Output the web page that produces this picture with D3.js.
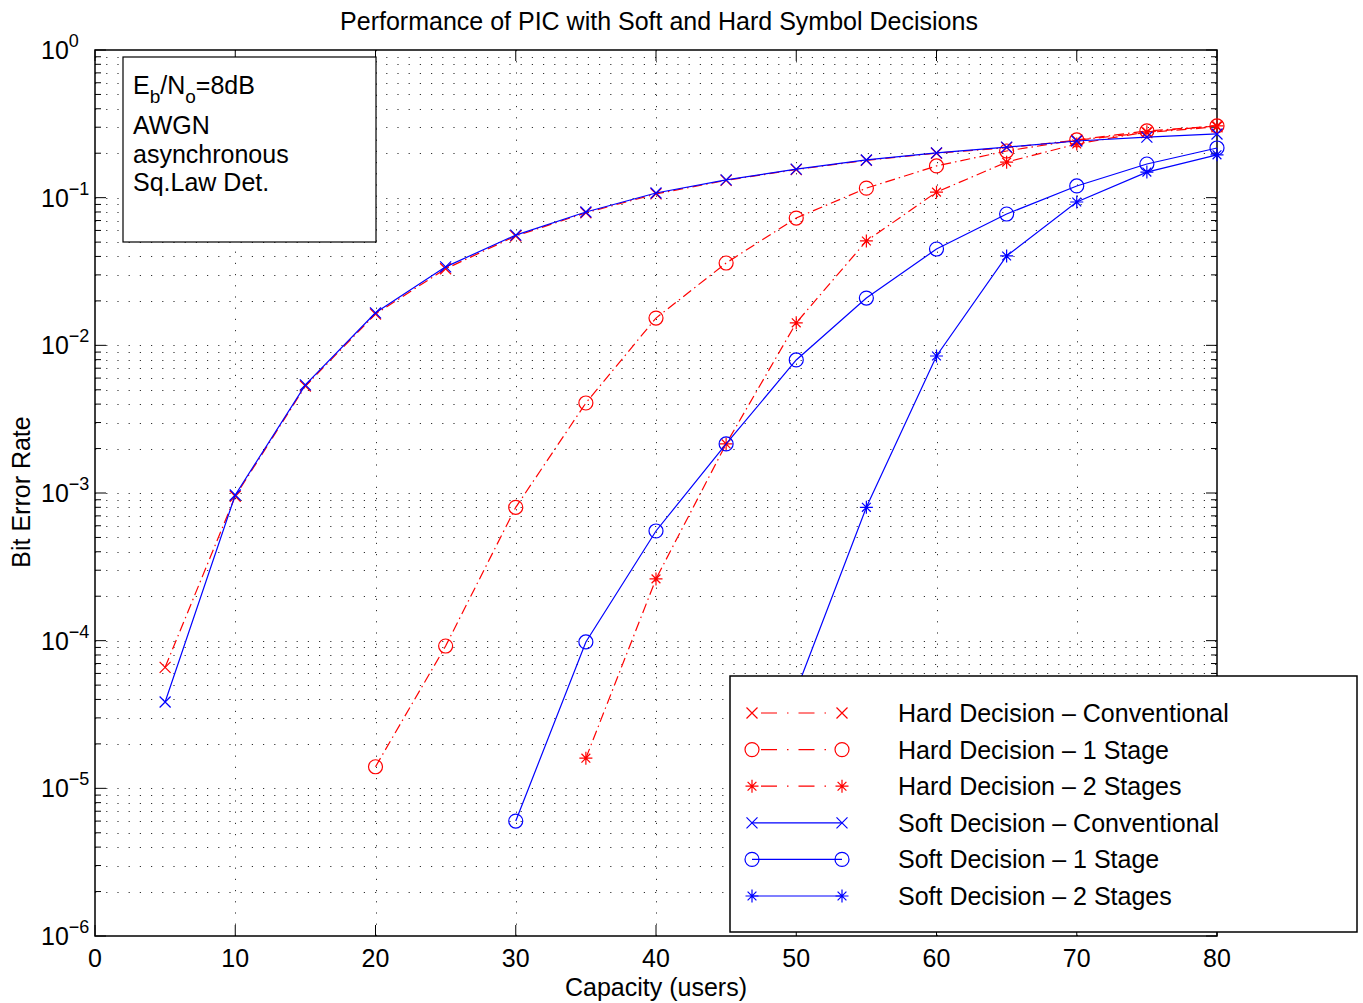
<!DOCTYPE html>
<html><head><meta charset="utf-8">
<script src="https://cdn.jsdelivr.net/npm/d3@7"></script>
<style>
body{margin:0;background:#fff;}
text{font-family:"Liberation Sans",Arial,sans-serif;fill:#000;}
</style></head>
<body><svg id="c" width="1363" height="1003"></svg>
<script>
const users = [5,10,15,20,25,30,35,40,45,50,55,60,65,70,75,80];
const hardConvX = users;
const hardConv = [6.6e-5,9.5e-4,5.3e-3,0.0163,0.033,0.055,0.079,0.106,0.131,0.155,0.179,0.200,0.218,0.245,0.276,0.302];
const hard1X = [20,25,30,35,40,45,50,55,60,65,70,75,80];
const hard1 = [1.4e-5,9.2e-5,8.0e-4,4.07e-3,0.0153,0.0361,0.0728,0.116,0.164,0.207,0.246,0.283,0.306];
const hard2X = [35,40,45,50,55,60,65,70,75,80];
const hard2 = [1.6e-5,2.62e-4,2.15e-3,0.0142,0.0509,0.109,0.174,0.231,0.279,0.306];
const softConvX = users;
const softConv = [3.84e-5,9.7e-4,5.4e-3,0.0166,0.034,0.0558,0.080,0.1076,0.132,0.156,0.180,0.201,0.220,0.242,0.257,0.270];
const soft1X = [30,35,40,45,50,55,60,65,70,75,80];
const soft1 = [6.0e-6,9.8e-5,5.53e-4,2.15e-3,7.96e-3,0.0209,0.0449,0.0775,0.120,0.169,0.217];
const soft2X = [50,55,60,65,70,75,80];
const soft2 = [4.6e-5,8.0e-4,8.47e-3,0.0403,0.0935,0.149,0.195];

const seriesNames = ["Hard Decision \u2013 Conventional","Hard Decision \u2013 1 Stage","Hard Decision \u2013 2 Stages","Soft Decision \u2013 Conventional","Soft Decision \u2013 1 Stage","Soft Decision \u2013 2 Stages"];
const xTicks = [0,10,20,30,40,50,60,70,80];
const yExps = [0,-1,-2,-3,-4,-5,-6];
const title = "Performance of PIC with Soft and Hard Symbol Decisions";
const xLabel = "Capacity (users)";
const yLabel = "Bit Error Rate";
const noteLines = ["AWGN","asynchronous","Sq.Law Det."];

const series = [
 {name:seriesNames[0], xs:hardConvX, ys:hardConv, color:"#ff0000", dash:"10,4,1.5,4", marker:"x"},
 {name:seriesNames[1], xs:hard1X, ys:hard1, color:"#ff0000", dash:"10,4,1.5,4", marker:"o"},
 {name:seriesNames[2], xs:hard2X, ys:hard2, color:"#ff0000", dash:"10,4,1.5,4", marker:"*"},
 {name:seriesNames[3], xs:softConvX, ys:softConv, color:"#0000ff", dash:null, marker:"x"},
 {name:seriesNames[4], xs:soft1X, ys:soft1, color:"#0000ff", dash:null, marker:"o"},
 {name:seriesNames[5], xs:soft2X, ys:soft2, color:"#0000ff", dash:null, marker:"*"}
];

const FS = 25;
const L=95, R=1217, T=50, B=936;
const svg = d3.select("#c");
const x = d3.scaleLinear().domain([0,80]).range([L,R]);
const y = d3.scaleLog().domain([1e-6,1]).range([B,T]);

// grid
const g = svg.append("g");
const minorVals = [];
for (let e=-6;e<0;e++) for (let m=1;m<=9;m++) minorVals.push(m*Math.pow(10,e));
minorVals.push(1);
g.selectAll("line.hg").data(minorVals.filter(v=>v>1e-6 && v<1)).enter().append("line")
 .attr("x1",L).attr("x2",R).attr("y1",d=>Math.round(y(d))+0.5).attr("y2",d=>Math.round(y(d))+0.5)
 .attr("stroke","#333").attr("stroke-width",1).attr("stroke-dasharray","1.2,10");
g.selectAll("line.vg").data(xTicks.filter(v=>v>0&&v<80)).enter().append("line")
 .attr("y1",T).attr("y2",B).attr("x1",d=>Math.round(x(d))+0.5).attr("x2",d=>Math.round(x(d))+0.5)
 .attr("stroke","#333").attr("stroke-width",1).attr("stroke-dasharray","1.2,10");

// ticks
const tk = svg.append("g").attr("stroke","#000").attr("stroke-width",1);
xTicks.forEach(v=>{
  tk.append("line").attr("x1",x(v)).attr("x2",x(v)).attr("y1",B).attr("y2",B-11);
  tk.append("line").attr("x1",x(v)).attr("x2",x(v)).attr("y1",T).attr("y2",T+11);
});
minorVals.forEach(v=>{
  const major = Math.abs(Math.log10(v)-Math.round(Math.log10(v)))<1e-9;
  const len = major?11:6;
  tk.append("line").attr("x1",L).attr("x2",L+len).attr("y1",y(v)).attr("y2",y(v));
  tk.append("line").attr("x1",R).attr("x2",R-len).attr("y1",y(v)).attr("y2",y(v));
});

// box
svg.append("rect").attr("x",L).attr("y",T).attr("width",R-L).attr("height",B-T)
 .attr("fill","none").attr("stroke","#000").attr("stroke-width",1.5);

// tick labels
svg.selectAll("text.xt").data(xTicks).enter().append("text")
 .attr("x",d=>x(d)).attr("y",967).attr("text-anchor","middle").attr("font-size",FS).text(d=>d);
yExps.forEach(e=>{
  const t = svg.append("text").attr("x",41).attr("y",y(Math.pow(10,e))+9).attr("font-size",FS);
  t.append("tspan").text("10");
  t.append("tspan").attr("dy",-12).attr("font-size",18).text(e===0?"0":"\u2212"+(-e));
});

// labels
svg.append("text").attr("x",659).attr("y",30).attr("text-anchor","middle").attr("font-size",FS).text(title);
svg.append("text").attr("x",656).attr("y",996).attr("text-anchor","middle").attr("font-size",FS).text(xLabel);
svg.append("text").attr("transform","translate(30,492) rotate(-90)").attr("text-anchor","middle").attr("font-size",FS).text(yLabel);

// markers
function drawMarker(sel, type, cx, cy, color){
  const s=5.5;
  if(type==="x"){
    sel.append("path").attr("d",`M${cx-s},${cy-s}L${cx+s},${cy+s}M${cx-s},${cy+s}L${cx+s},${cy-s}`).attr("stroke",color).attr("stroke-width",1.2).attr("fill","none");
  } else if(type==="o"){
    sel.append("circle").attr("cx",cx).attr("cy",cy).attr("r",7).attr("stroke",color).attr("stroke-width",1.2).attr("fill","none");
  } else {
    const d=s*0.8;
    sel.append("path").attr("d",`M${cx-s-1},${cy}L${cx+s+1},${cy}M${cx},${cy-s-1}L${cx},${cy+s+1}M${cx-d},${cy-d}L${cx+d},${cy+d}M${cx-d},${cy+d}L${cx+d},${cy-d}`).attr("stroke",color).attr("stroke-width",1.2).attr("fill","none");
  }
}

const line = d3.line().x(d=>x(d[0])).y(d=>y(d[1]));
const plot = svg.append("g");
series.forEach(s=>{
  const pts = s.xs.map((v,i)=>[v,s.ys[i]]);
  plot.append("path").attr("d",line(pts)).attr("fill","none").attr("stroke",s.color).attr("stroke-width",1.2)
    .attr("stroke-dasharray",s.dash);
  pts.forEach(p=>drawMarker(plot,s.marker,x(p[0]),y(p[1]),s.color));
});

// annotation box
svg.append("rect").attr("x",123).attr("y",57).attr("width",253).attr("height",185).attr("fill","#fff").attr("stroke","#000").attr("stroke-width",1.2);
const n0 = svg.append("text").attr("x",133).attr("y",94).attr("font-size",FS);
n0.append("tspan").text("E");
n0.append("tspan").attr("dy",9).attr("font-size",19).text("b");
n0.append("tspan").attr("dy",-9).text("/N");
n0.append("tspan").attr("dy",9).attr("font-size",19).text("o");
n0.append("tspan").attr("dy",-9).text("=8dB");
noteLines.forEach((t,i)=>{
  svg.append("text").attr("x",133).attr("y",134+i*28.7).attr("font-size",FS).text(t);
});

// legend
const lg = svg.append("g");
lg.append("rect").attr("x",730).attr("y",676).attr("width",627).attr("height",256).attr("fill","#fff").attr("stroke","#000").attr("stroke-width",1.5);
series.forEach((s,i)=>{
  const cy = 713 + i*36.6;
  lg.append("line").attr("x1",752).attr("x2",842).attr("y1",cy).attr("y2",cy).attr("stroke",s.color).attr("stroke-width",1.2)
    .attr("stroke-dasharray", s.dash ? "0,9,16,10,1.5,10,16,10,1.5,30" : null);
  drawMarker(lg,s.marker,752,cy,s.color);
  drawMarker(lg,s.marker,842,cy,s.color);
  lg.append("text").attr("x",898).attr("y",cy+9).attr("font-size",FS).text(s.name);
});
</script></body></html>
